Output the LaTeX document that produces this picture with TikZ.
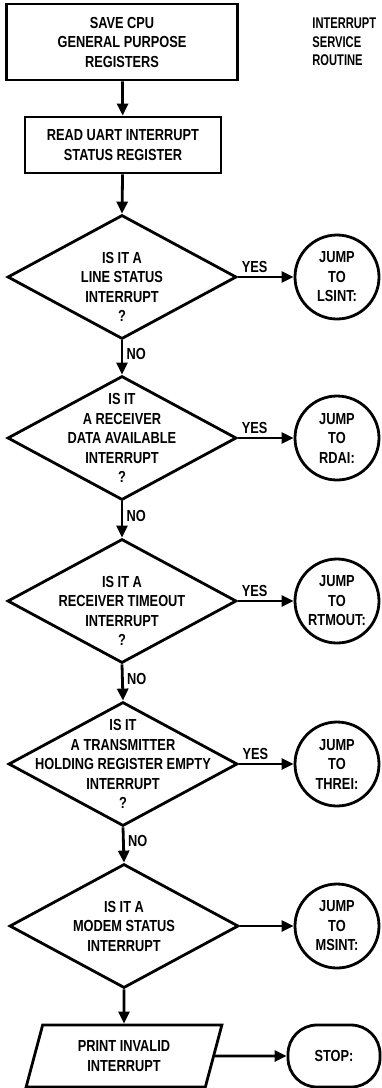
\documentclass[tikz,border=0pt]{standalone}
\usepackage{fontspec}
\newfontfamily\chartfont{Liberation Sans}[FakeStretch=0.8]
\newfontfamily\notefont{Liberation Sans}[FakeStretch=0.72]
\usetikzlibrary{arrows.meta,shapes.geometric}

\begin{document}
\begin{tikzpicture}[x=1pt, y=-1pt, line width=2.8pt,
        >={Triangle[length=12pt,width=11pt]},
        every node/.style={font=\chartfont\bfseries\fontsize{16}{19.5}\selectfont, align=center},
        procbox/.style={draw, rectangle, inner sep=0pt},
        decision/.style={draw, diamond, inner sep=0pt, minimum width=229pt, minimum height=124pt},
        jumpto/.style={draw, circle, inner sep=0pt, minimum size=84pt},
        printio/.style={draw, trapezium, trapezium left angle=73, trapezium right angle=107,
            trapezium stretches=true, inner sep=0pt, minimum width=196pt, minimum height=62pt},
        stopbox/.style={draw, rectangle, rounded corners=29pt, minimum width=92pt, minimum height=62pt},
        flow/.style={->}]
        % --- 1. Page ---
        \useasboundingbox (0,0) rectangle (381,1088);

        % --- 2. Start of routine ---
        \node[procbox, minimum width=231pt, minimum height=76pt] (save) at (122,42) {SAVE CPU\\GENERAL PURPOSE\\REGISTERS};
        \node[anchor=west, align=left, inner xsep=0pt, font=\notefont\bfseries\fontsize{15.5}{18.5}\selectfont] (isr) at (311,42) {INTERRUPT\\SERVICE\\ROUTINE};
        \node[procbox, minimum width=196pt, minimum height=56pt] (read) at (123,145) {READ UART INTERRUPT\\STATUS REGISTER};

        % --- 3. Decisions (text set apart, the diamonds keep their size) ---
        \node[decision] (ls) at (122,277) {};
        \node at ([yshift=-10pt]ls.center) {IS IT A\\LINE STATUS\\INTERRUPT\\?};
        \node[decision] (rda) at (122,438) {};
        \node at (rda.center) {IS IT\\A RECEIVER\\DATA AVAILABLE\\INTERRUPT\\?};
        \node[decision] (rto) at (122,601) {};
        \node at ([yshift=-10pt]rto.center) {IS IT A\\RECEIVER TIMEOUT\\INTERRUPT\\?};
        \node[decision] (thre) at (123,764) {};
        \node at (thre.center) {IS IT\\A TRANSMITTER\\HOLDING REGISTER EMPTY\\INTERRUPT\\?};
        \node[decision] (ms) at (124,926) {};
        \node at (ms.center) {IS IT A\\MODEM STATUS\\INTERRUPT};

        % --- 4. Jumps ---
        \node[jumpto] (jls) at (337,277) {JUMP\\TO\\LSINT:};
        \node[jumpto] (jrda) at (337,438) {JUMP\\TO\\RDAI:};
        \node[jumpto] (jrto) at (337,601) {JUMP\\TO\\RTMOUT:};
        \node[jumpto] (jthre) at (337,764) {JUMP\\TO\\THREI:};
        \node[jumpto] (jms) at (337,926) {JUMP\\TO\\MSINT:};

        % --- 5. End ---
        \node[printio] (print) at (124,1056) {PRINT INVALID\\INTERRUPT};
        \node[stopbox] (stop) at (334,1056) {STOP:};

        % --- 6. Flow lines ---
        \draw[flow] (save) -- (read);
        \draw[flow] (read) -- (ls.north);
        \draw[flow] (ls.south) -- node[right, pos=0.4] {NO} (rda.north);
        \draw[flow] (rda.south) -- node[right, pos=0.4] {NO} (rto.north);
        \draw[flow] (rto.south) -- node[right, pos=0.4] {NO} (thre.north);
        \draw[flow] (thre.south) -- node[right, pos=0.4] {NO} (ms.north);
        \draw[flow] (ms.south) -- (print.north);
        \draw[flow] (ls.east) -- node[above, pos=0.3] {YES} (jls);
        \draw[flow] (rda.east) -- node[above, pos=0.3] {YES} (jrda);
        \draw[flow] (rto.east) -- node[above, pos=0.3] {YES} (jrto);
        \draw[flow] (thre.east) -- node[above, pos=0.3] {YES} (jthre);
        \draw[flow] (ms.east) -- (jms);
        \draw[flow] (print) -- (stop);
\end{tikzpicture}
\end{document}
